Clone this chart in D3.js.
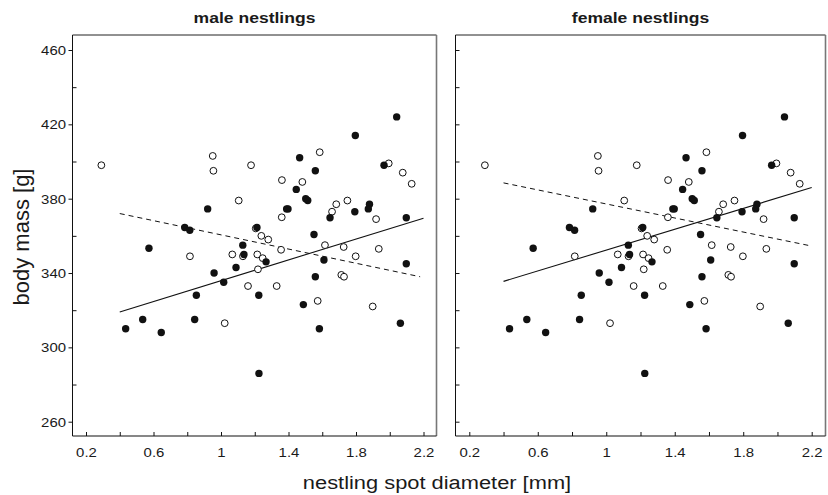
<!DOCTYPE html>
<html><head><meta charset="utf-8">
<script src="https://cdn.jsdelivr.net/npm/d3@7"></script>
<style>body{margin:0;background:#fff}svg text{font-family:"Liberation Sans",Arial,sans-serif;fill:#1a1a1a}</style>
</head><body>
<svg id="c" width="828" height="495"></svg>
<script>
// ---- data ----
const filledX = [2.041,1.796,1.466,1.559,1.966,1.446,1.502,1.514,0.921,1.397,1.389,1.793,1.880,1.873,1.646,2.098,0.785,0.815,1.213,1.551,1.129,0.573,1.136,1.267,1.089,0.959,1.016,0.854,1.224,1.610,1.559,1.488,2.098,2.063,1.583,1.225,0.435,0.536,0.646,0.844];
const filledY = [424,414,402,395,398,385,380,379,374.5,374.5,374.5,373,377,374.5,369.7,369.7,364.5,363,364.5,360.7,355,353.3,350,346,343,340,335,328,328,347,338,323,345,313,310,286,310,315,308,315];
const openX = [0.291,0.951,0.955,1.178,1.585,1.361,1.482,1.994,2.077,2.130,1.105,1.749,1.683,1.658,1.360,1.919,1.206,1.239,1.280,1.356,1.616,1.727,1.935,0.816,1.067,1.215,1.247,1.219,1.160,1.330,1.798,1.713,1.729,1.573,1.899,1.022,1.130];
const openY = [398,403,395,398,405,390,389,399,394,388,379,379,377,373,370,369,364,360,358,352.5,355,354,353,349,350,350,348,342,333,333,349,339,338,325,322,313,349];

const panelTitles = ["male nestlings", "female nestlings"];
const xTickValues = [0.2,0.4,0.6,0.8,1.0,1.2,1.4,1.6,1.8,2.0,2.2];
const xTickLabels = {"0.2":"0.2","0.6":"0.6","1":"1","1.4":"1.4","1.8":"1.8","2.2":"2.2"};
const yMajorTicks = [260,300,340,380,420,460];
const yMinorTicks = [280,320,360,400,440];
const xLabel = "nestling spot diameter [mm]";
const yLabel = "body mass [g]";

// fitted lines per panel: [x0, x1], [y0, y1]
const solidFitX = [[0.4,2.2],[0.4,2.2]];
const solidFitY = [[319,369.5],[335.5,386]];
const dashedFitX = [[0.4,2.18],[0.4,2.2]];
const dashedFitY = [[372,338],[388.5,354.5]];

// ---- layout ----
const panels = [
  {left:72.5, right:436.5, r0:86, r1:423.5},
  {left:455.5, right:825.5, r0:469.3, r1:811.7}
];
const frameTop = 35, frameBottom = 436;
const SX = 1.15; // horizontal text stretch seen in the reference

const svg = d3.select("#c");
const y = d3.scaleLinear().domain([260,460]).range([421.7,50]);

const openPts = openX.map((v,i)=>({x:v,y:openY[i]}));
const filledPts = filledX.map((v,i)=>({x:v,y:filledY[i]}));

panels.forEach((p, pi) => {
  const x = d3.scaleLinear().domain([0.2,2.2]).range([p.r0,p.r1]);
  const g = svg.append("g");

  // frame
  g.append("line").attr("x1",p.left).attr("x2",p.right).attr("y1",frameTop).attr("y2",frameTop).attr("stroke","#222").attr("stroke-width",1);
  g.append("line").attr("x1",p.right).attr("x2",p.right).attr("y1",frameTop).attr("y2",frameBottom).attr("stroke","#777").attr("stroke-width",1.6);
  g.append("line").attr("x1",p.left).attr("x2",p.left).attr("y1",frameTop).attr("y2",frameBottom).attr("stroke","#111").attr("stroke-width",1);
  g.append("line").attr("x1",p.left).attr("x2",p.right).attr("y1",frameBottom).attr("y2",frameBottom).attr("stroke","#111").attr("stroke-width",1.2);

  // x axis
  const gx = g.append("g").attr("transform",`translate(0,${frameBottom})`)
    .call(d3.axisBottom(x).tickValues(xTickValues).tickSize(-4).tickFormat(d => xTickLabels[String(+d.toFixed(1))] || ""));
  gx.select(".domain").remove();
  gx.selectAll(".tick line").attr("stroke","#111");
  gx.selectAll(".tick text").attr("y",0).attr("dy",0)
    .attr("transform",`translate(0,21) scale(${SX},1)`)
    .attr("font-size",13).attr("fill","#1a1a1a").attr("font-family","Liberation Sans, Arial, sans-serif");

  // y axis
  if (pi === 0) {
    const gy = g.append("g").attr("transform",`translate(${p.left},0)`)
      .call(d3.axisLeft(y).tickValues(yMajorTicks).tickSize(4).tickFormat(d3.format("d")));
    gy.select(".domain").remove();
    gy.selectAll(".tick line").attr("stroke","#111");
    gy.selectAll(".tick text").attr("x",0).attr("dy","0.34em")
      .attr("transform",`translate(-6.5,0) scale(${SX},1)`)
      .attr("font-size",13).attr("fill","#1a1a1a").attr("font-family","Liberation Sans, Arial, sans-serif");
    const gm = g.append("g").attr("transform",`translate(${p.left},0)`)
      .call(d3.axisLeft(y).tickValues(yMinorTicks).tickSize(-4).tickFormat(""));
    gm.select(".domain").remove();
    gm.selectAll(".tick line").attr("stroke","#111");
  } else {
    const gy = g.append("g").attr("transform",`translate(${p.left},0)`)
      .call(d3.axisLeft(y).tickValues(yMajorTicks.concat(yMinorTicks)).tickSize(-4).tickFormat(""));
    gy.select(".domain").remove();
    gy.selectAll(".tick line").attr("stroke","#111");
  }

  // title
  g.append("text").attr("transform",`translate(${(p.left+p.right)/2},23) scale(1.17,1)`)
    .attr("text-anchor","middle").attr("font-size",15).attr("font-weight","bold").text(panelTitles[pi]);

  // fitted lines
  const line = d3.line().x(d=>x(d[0])).y(d=>y(d[1]));
  g.append("path").datum([[solidFitX[pi][0],solidFitY[pi][0]],[solidFitX[pi][1],solidFitY[pi][1]]])
    .attr("d",line).attr("stroke","#111").attr("stroke-width",1.1).attr("fill","none");
  g.append("path").datum([[dashedFitX[pi][0],dashedFitY[pi][0]],[dashedFitX[pi][1],dashedFitY[pi][1]]])
    .attr("d",line).attr("stroke","#111").attr("stroke-width",1).attr("stroke-dasharray","5,4").attr("fill","none");

  // points: open first, filled on top
  g.selectAll("circle.o").data(openPts).join("circle").attr("class","o")
    .attr("cx",d=>x(d.x)).attr("cy",d=>y(d.y)).attr("r",3.4)
    .attr("fill","#fff").attr("stroke","#111").attr("stroke-width",1);
  g.selectAll("circle.f").data(filledPts).join("circle").attr("class","f")
    .attr("cx",d=>x(d.x)).attr("cy",d=>y(d.y)).attr("r",3.7)
    .attr("fill","#111");
});

// axis titles
svg.append("text").attr("transform",`translate(437,489) scale(${SX},1)`)
  .attr("text-anchor","middle").attr("font-size",19).text(xLabel);
svg.append("text").attr("transform",`translate(28.5,237) rotate(-90)`)
  .attr("text-anchor","middle").attr("font-size",22).text(yLabel);
</script>
</body></html>
